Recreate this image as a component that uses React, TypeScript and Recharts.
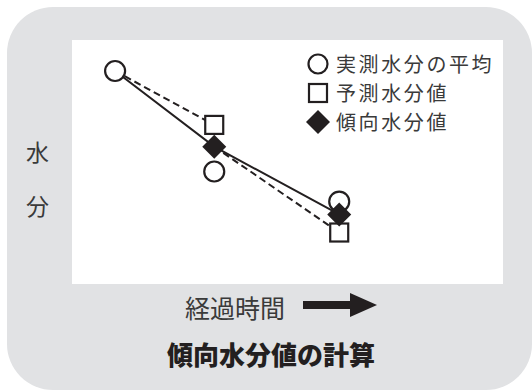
import { ComposedChart, Line, XAxis, YAxis, CartesianGrid } from 'recharts';

// elapsed-time positions and moisture values (relative 0–100 scale)
const TIMES = [10, 33, 62];
const MEASURED = [87.3, 46.1, 33.8];
const PREDICTED: (number | null)[] = [null, 65.2, 21.1];
const TREND = [87.3, 56.3, 28.5];

const LEGEND = ['実測水分の平均', '予測水分値', '傾向水分値'];
const Y_LABEL = ['水', '分'];
const X_LABEL = '経過時間';
const TITLE = '傾向水分値の計算';

const INK = '#231f20';
const TEXT = '#3a3a3a';
const PANEL = '#e1e2e4';
const FONT = '"Noto Sans CJK JP", "Noto Sans", sans-serif';

// predicted value at step k is projected from the trend value at step k-1
const SEGMENTS = TIMES.slice(1).map((_, j) => j + 1);

const rows = TIMES.map((t, i) => {
  const row: Record<string, number | null> = {
    t,
    measured: MEASURED[i],
    predicted: PREDICTED[i],
    trend: TREND[i],
    trendMark: i > 0 ? TREND[i] : null,
  };
  SEGMENTS.forEach((k) => {
    row[`dash${k}`] = i === k - 1 ? TREND[k - 1] : i === k ? PREDICTED[k] : null;
  });
  return row;
});

function SquareDot({ cx, cy, index }: any) {
  if (cx == null || cy == null) return <g key={`s${index}`} />;
  return (
    <rect key={`s${index}`} x={cx - 9} y={cy - 9} width={18} height={18} fill="#fff" stroke={INK} strokeWidth={2.2} />
  );
}

function DiamondDot({ cx, cy, index }: any) {
  if (cx == null || cy == null) return <g key={`d${index}`} />;
  const r = 12;
  return (
    <polygon
      key={`d${index}`}
      points={`${cx},${cy - r} ${cx + r},${cy} ${cx},${cy + r} ${cx - r},${cy}`}
      fill={INK}
    />
  );
}

function LegendSymbol({ kind }: { kind: number }) {
  return (
    <svg width={24} height={24} style={{ display: 'block' }}>
      {kind === 0 && <circle cx={12} cy={12} r={9.5} fill="#fff" stroke={INK} strokeWidth={2.2} />}
      {kind === 1 && <rect x={3} y={3} width={18} height={18} fill="#fff" stroke={INK} strokeWidth={2.2} />}
      {kind === 2 && <polygon points="12,0 24,12 12,24 0,12" fill={INK} />}
    </svg>
  );
}

export default function App() {
  const legendY = [64, 93, 122];
  return (
    <div style={{ position: 'absolute', left: 0, top: 0, width: 532, height: 390, overflow: 'hidden', background: '#fff', fontFamily: FONT }}>
      <div style={{ position: 'absolute', left: 7, top: 7, width: 525, height: 383, borderRadius: 46, background: PANEL }} />

      <div style={{ position: 'absolute', left: 0, top: 0 }}>
        <ComposedChart width={532} height={390} data={rows} margin={{ top: 40, right: 29, bottom: 106, left: 72 }}>
          <CartesianGrid fill="#fff" stroke="none" horizontal={false} vertical={false} />
          <XAxis
            type="number"
            dataKey="t"
            domain={[0, 100]}
            height={0}
            tick={false}
            tickLine={false}
            axisLine={{ stroke: INK, strokeWidth: 2.5 }}
          />
          <YAxis
            type="number"
            domain={[0, 100]}
            width={0}
            tick={false}
            tickLine={false}
            axisLine={{ stroke: INK, strokeWidth: 2.5 }}
          />
          {SEGMENTS.map((k) => (
            <Line
              key={k}
              dataKey={`dash${k}`}
              stroke={INK}
              strokeWidth={2}
              strokeDasharray="7 4"
              dot={false}
              activeDot={false}
              isAnimationActive={false}
            />
          ))}
          <Line dataKey="trend" stroke={INK} strokeWidth={2} dot={false} activeDot={false} isAnimationActive={false} />
          <Line
            dataKey="measured"
            stroke="none"
            dot={{ r: 10, fill: '#fff', stroke: INK, strokeWidth: 2.2 }}
            activeDot={false}
            isAnimationActive={false}
          />
          <Line dataKey="predicted" stroke="none" dot={SquareDot} activeDot={false} isAnimationActive={false} />
          <Line dataKey="trendMark" stroke="none" dot={DiamondDot} activeDot={false} isAnimationActive={false} />
        </ComposedChart>
      </div>

      {LEGEND.map((label, i) => (
        <div
          key={label}
          style={{ position: 'absolute', left: 306, top: legendY[i] - 12, height: 24, display: 'flex', alignItems: 'center' }}
        >
          <LegendSymbol kind={i} />
          <div style={{ marginLeft: 6, fontSize: 20, letterSpacing: 2.6, height: 24, lineHeight: '24px', color: TEXT }}>{label}</div>
        </div>
      ))}

      {Y_LABEL.map((ch, i) => (
        <div
          key={ch}
          style={{ position: 'absolute', left: 26, top: [151, 205][i] - 12, fontSize: 23, lineHeight: '24px', color: TEXT }}
        >
          {ch}
        </div>
      ))}

      <div style={{ position: 'absolute', left: 185, top: 294, fontSize: 25, lineHeight: '26px', color: TEXT }}>{X_LABEL}</div>
      <svg style={{ position: 'absolute', left: 300, top: 290 }} width={80} height={32}>
        <rect x={3} y={11} width={50} height={8} fill={INK} />
        <polygon points="50,3 77,15 50,27" fill={INK} />
      </svg>

      <div
        style={{
          position: 'absolute',
          left: 0,
          width: 542,
          top: 340,
          textAlign: 'center',
          fontSize: 26,
          lineHeight: '28px',
          fontWeight: 900,
          color: INK,
        }}
      >
        {TITLE}
      </div>
    </div>
  );
}
